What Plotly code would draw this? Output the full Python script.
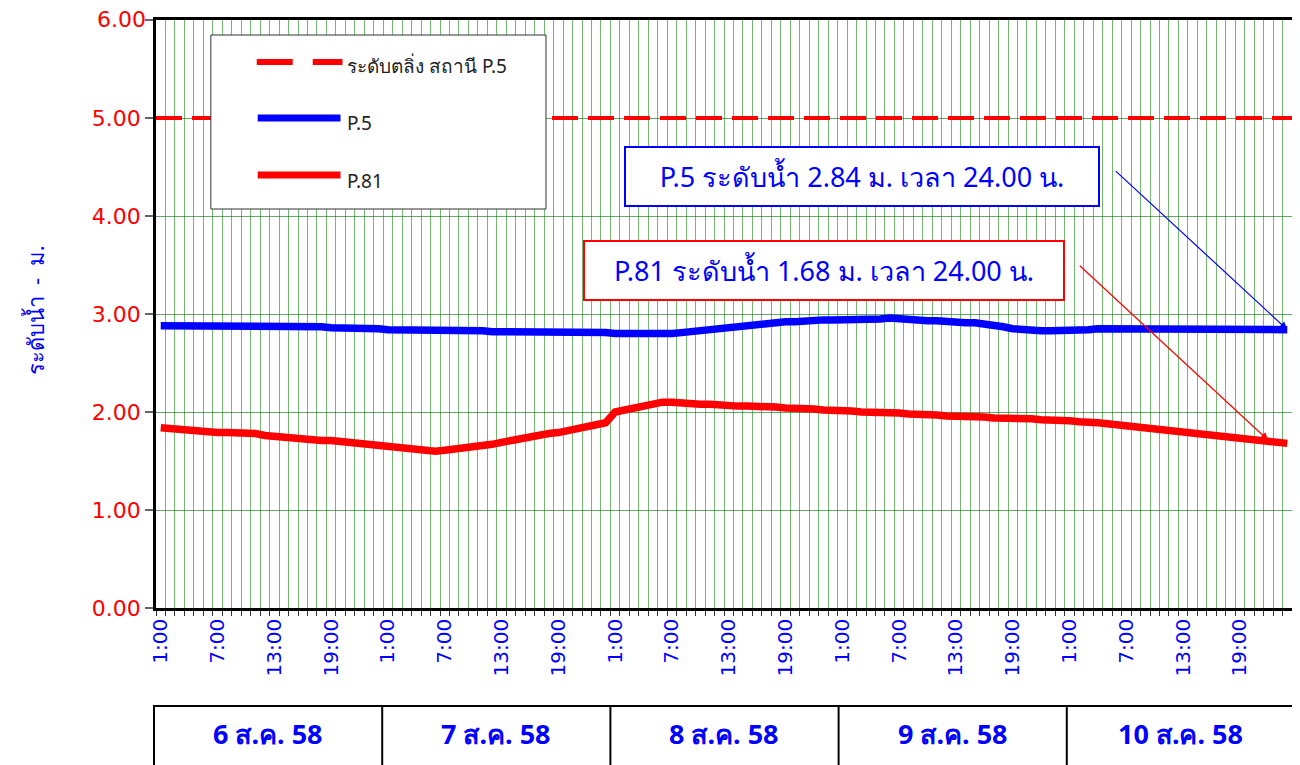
import plotly.graph_objects as go

# ---------------- data ----------------
days = ["6 ส.ค. 58", "7 ส.ค. 58", "8 ส.ค. 58", "9 ส.ค. 58", "10 ส.ค. 58"]
hours = [f"{h}:00" for h in range(1, 25)]
time_labels = [h for d in days for h in hours]  # 120 hourly categories

p5 = [
    # 6 Aug
    2.88, 2.88, 2.88, 2.88, 2.88, 2.88, 2.88, 2.88, 2.88, 2.88, 2.88, 2.87,
    2.87, 2.87, 2.87, 2.87, 2.87, 2.87, 2.86, 2.86, 2.86, 2.86, 2.85, 2.85,
    # 7 Aug
    2.84, 2.84, 2.84, 2.84, 2.84, 2.84, 2.83, 2.83, 2.83, 2.83, 2.83, 2.82,
    2.82, 2.82, 2.82, 2.82, 2.82, 2.81, 2.81, 2.81, 2.81, 2.81, 2.81, 2.81,
    # 8 Aug
    2.80, 2.80, 2.80, 2.80, 2.79, 2.79, 2.80, 2.81, 2.82, 2.83, 2.85, 2.86,
    2.87, 2.88, 2.89, 2.90, 2.90, 2.91, 2.92, 2.92, 2.93, 2.93, 2.94, 2.94,
    # 9 Aug
    2.94, 2.95, 2.95, 2.95, 2.95, 2.96, 2.95, 2.95, 2.94, 2.93, 2.93, 2.92,
    2.92, 2.91, 2.91, 2.90, 2.89, 2.87, 2.85, 2.84, 2.83, 2.83, 2.83, 2.83,
    # 10 Aug
    2.83, 2.84, 2.84, 2.85, 2.85, 2.85, 2.85, 2.85, 2.85, 2.85, 2.85, 2.85,
    2.85, 2.85, 2.85, 2.85, 2.84, 2.84, 2.84, 2.84, 2.84, 2.84, 2.84, 2.84,
]

p81 = [
    # 6 Aug
    1.84, 1.83, 1.82, 1.81, 1.80, 1.79, 1.79, 1.79, 1.79, 1.79, 1.78, 1.76,
    1.75, 1.74, 1.73, 1.72, 1.72, 1.71, 1.71, 1.70, 1.69, 1.68, 1.67, 1.66,
    # 7 Aug
    1.65, 1.64, 1.63, 1.62, 1.61, 1.60, 1.61, 1.62, 1.63, 1.64, 1.65, 1.67,
    1.69, 1.71, 1.73, 1.75, 1.77, 1.78, 1.79, 1.81, 1.83, 1.85, 1.87, 1.89,
    # 8 Aug
    2.00, 2.02, 2.04, 2.06, 2.08, 2.10, 2.10, 2.09, 2.08, 2.08, 2.08, 2.07,
    2.07, 2.06, 2.06, 2.06, 2.05, 2.05, 2.04, 2.04, 2.03, 2.03, 2.02, 2.02,
    # 9 Aug
    2.01, 2.01, 2.00, 2.00, 2.00, 1.99, 1.99, 1.98, 1.98, 1.97, 1.97, 1.96,
    1.96, 1.96, 1.95, 1.95, 1.94, 1.94, 1.93, 1.93, 1.93, 1.92, 1.92, 1.91,
    # 10 Aug
    1.91, 1.90, 1.90, 1.89, 1.88, 1.87, 1.86, 1.85, 1.84, 1.83, 1.81, 1.80,
    1.79, 1.78, 1.77, 1.76, 1.75, 1.74, 1.74, 1.73, 1.72, 1.71, 1.70, 1.68,
]

bank_level_p5 = 5.0
y_ticks = [0, 1, 2, 3, 4, 5, 6]
label_hours = ["1:00", "7:00", "13:00", "19:00"]

legend_names = ["ระดับตลิ่ง สถานี P.5", "P.5", "P.81"]
note_p5 = f"P.5 ระดับน้ำ {p5[-1]:.2f} ม. เวลา 24.00 น."
note_p81 = f"P.81 ระดับน้ำ {p81[-1]:.2f} ม. เวลา 24.00 น."
y_title = "ระดับน้ำ\u00a0\u00a0-\u00a0\u00a0ม."

# ---------------- layout helpers (page pixel coordinates) ----------------
OFF = 8                      # default page body margin
PAGE_W, PAGE_H = 1300, 765
W, H = PAGE_W - OFF, PAGE_H - OFF
PL, PR, PT, PB = 156, 1295, 20, 608  # plot area in page pixels
L, T = PL - OFF, PT - OFF
R = W - (PR - OFF)
B = H - (PB - OFF)
PW, PH = PR - PL, PB - PT


def px(p):
    return (p - PL) / PW


def py(p):
    return (PB - p) / PH


FONT = "Noto Sans, DejaVu Sans, sans-serif"
TICKFONT = "DejaVu Sans, sans-serif"
BLUE = "#0000ff"
RED = "#ff0000"
GRID = "rgba(0,128,0,0.55)"

n = len(time_labels)
xs = list(range(n))
tickvals = [i for i, t in enumerate(time_labels) if t in label_hours]
ticktext = [time_labels[i] for i in tickvals]

# the top y label would overflow the page top, so it is drawn as an annotation
y_ticktext = [f"{v:.2f}" for v in y_ticks[:-1]] + [""]

fig = go.Figure()
fig.add_trace(go.Scatter(x=xs, y=p5, mode="lines", name=legend_names[1],
                         line=dict(color=BLUE, width=7.5), showlegend=False))
fig.add_trace(go.Scatter(x=xs, y=p81, mode="lines", name=legend_names[2],
                         line=dict(color=RED, width=7.5), showlegend=False))

shapes = []
# bank level dashed line
shapes.append(dict(type="line", xref="paper", yref="y", x0=0, x1=1,
                   y0=bank_level_p5, y1=bank_level_p5,
                   line=dict(color=RED, width=4, dash="26px,10px")))

# manual legend box
shapes.append(dict(type="rect", xref="paper", yref="paper",
                   x0=px(211), x1=px(547), y0=py(209), y1=py(35),
                   line=dict(color="#333333", width=1), fillcolor="white",
                   layer="above"))
shapes.append(dict(type="line", xref="paper", yref="paper",
                   x0=px(257), x1=px(343), y0=py(62), y1=py(62),
                   line=dict(color=RED, width=6, dash="36px,20px"), layer="above"))
shapes.append(dict(type="line", xref="paper", yref="paper",
                   x0=px(258), x1=px(341), y0=py(118), y1=py(118),
                   line=dict(color=BLUE, width=7), layer="above"))
shapes.append(dict(type="line", xref="paper", yref="paper",
                   x0=px(258), x1=px(341), y0=py(175), y1=py(175),
                   line=dict(color=RED, width=7), layer="above"))

# day table below the axis
TX0, TX1, TY0, TY1 = 154, 1298, 706, 766
shapes.append(dict(type="rect", xref="paper", yref="paper",
                   x0=px(TX0), x1=px(TX1), y0=py(TY1), y1=py(TY0),
                   line=dict(color="black", width=2), fillcolor="rgba(0,0,0,0)"))
cell_w = (TX1 - TX0) / len(days)
for k in range(1, len(days)):
    xx = TX0 + k * cell_w
    shapes.append(dict(type="line", xref="paper", yref="paper",
                       x0=px(xx), x1=px(xx), y0=py(TY1), y1=py(TY0),
                       line=dict(color="black", width=2)))

annotations = []
legend_text_pos = [(345, 66), (345, 123), (345, 181)]
for name, (lx, ly) in zip(legend_names, legend_text_pos):
    annotations.append(dict(xref="paper", yref="paper", x=px(lx), y=py(ly),
                            xanchor="left", yanchor="middle", text=name,
                            showarrow=False,
                            font=dict(family=FONT, size=19, color="#222222")))

for k, d in enumerate(days):
    cx = TX0 + (k + 0.5) * cell_w
    annotations.append(dict(xref="paper", yref="paper", x=px(cx), y=py(733),
                            xanchor="center", yanchor="middle",
                            text=f"<b>{d}</b>", showarrow=False,
                            font=dict(family=FONT, size=27, color=BLUE)))

# top y tick label
annotations.append(dict(xref="paper", yref="paper", x=px(147), y=py(OFF - 2),
                        xanchor="right", yanchor="top",
                        text=f"{y_ticks[-1]:.2f}", showarrow=False, borderpad=0,
                        font=dict(family=TICKFONT, size=22, color=RED)))

# y axis title
annotations.append(dict(xref="paper", yref="paper", x=px(35), y=py(310),
                        xanchor="center", yanchor="middle", text=y_title,
                        textangle=-90, showarrow=False,
                        font=dict(family=FONT, size=22, color=BLUE)))

# note boxes
annotations.append(dict(xref="paper", yref="paper", x=px(864), y=py(176.5),
                        xanchor="center", yanchor="middle", text=note_p5,
                        showarrow=False, width=470, height=55,
                        bordercolor=BLUE, borderwidth=2, bgcolor="white",
                        font=dict(family=FONT, size=27, color=BLUE)))
annotations.append(dict(xref="paper", yref="paper", x=px(826), y=py(270.5),
                        xanchor="center", yanchor="middle", text=note_p81,
                        showarrow=False, width=476, height=55,
                        bordercolor=RED, borderwidth=2, bgcolor="white",
                        font=dict(family=FONT, size=27, color=BLUE)))

# arrows pointing to last values
last = n - 1
annotations.append(dict(x=last, y=p5[-1], xref="x", yref="y", text="",
                        showarrow=True, arrowhead=2, arrowsize=1.3, arrowwidth=1.2,
                        arrowcolor=BLUE, ax=-173, ay=-160))
annotations.append(dict(x=last - 2, y=p81[-3], xref="x", yref="y", text="",
                        showarrow=True, arrowhead=2, arrowsize=1.3, arrowwidth=1.2,
                        arrowcolor=RED, ax=-190, ay=-176))

fig.update_layout(
    width=W, height=H,
    margin=dict(l=L, r=R, t=T, b=B, pad=0),
    paper_bgcolor="white", plot_bgcolor="white",
    showlegend=False,
    shapes=shapes, annotations=annotations,
    font=dict(family=FONT),
)

fig.update_xaxes(
    range=[-0.5, n - 0.5],
    tickmode="array", tickvals=tickvals, ticktext=ticktext,
    tickangle=-90, ticks="", showgrid=False,
    tickfont=dict(family=TICKFONT, size=20, color=BLUE),
    showline=True, linecolor="black", linewidth=2.5, mirror=True,
    minor=dict(tick0=-0.5, dtick=1, showgrid=True, gridcolor=GRID,
               gridwidth=1, ticks="outside", ticklen=5, tickcolor="#333333",
               tickwidth=1),
    zeroline=False,
)
fig.update_yaxes(
    range=[0, 6], tickmode="array", tickvals=y_ticks, ticktext=y_ticktext,
    tickfont=dict(family=TICKFONT, size=22, color=RED),
    ticks="outside", ticklen=8, tickcolor="#666666", tickwidth=2,
    showgrid=True, gridcolor="rgba(0,110,0,0.6)", gridwidth=1,
    showline=True, linecolor="black", linewidth=2.5, mirror=True,
    zeroline=False,
)

fig.write_html("out.html")
